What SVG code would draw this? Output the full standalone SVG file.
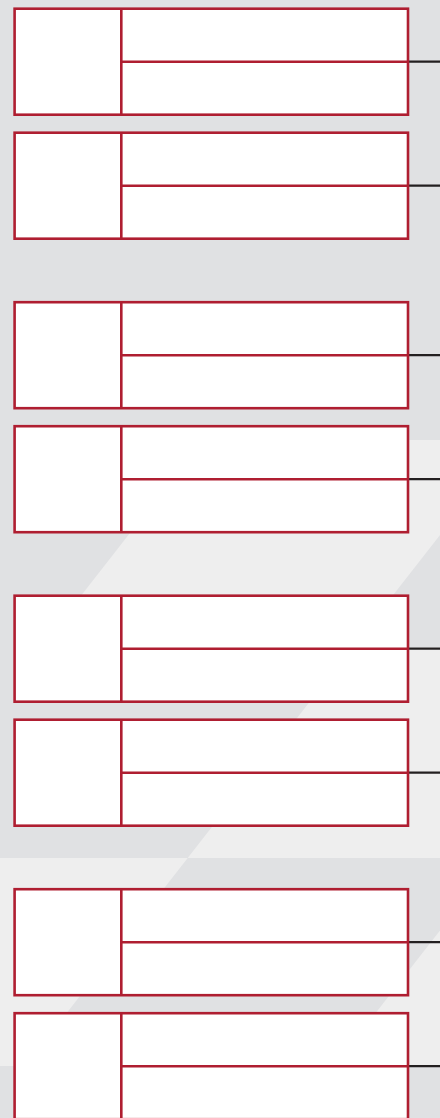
<svg xmlns="http://www.w3.org/2000/svg" width="440" height="1118" viewBox="0 0 440 1118">
<style>
.bg-dark{fill:#e0e1e3}
.bg-light{fill:#eeeeee}
.box{fill:#ffffff;stroke:#af1e31;stroke-width:2.6}
.div{fill:none;stroke:#af1e31;stroke-width:2.6}
.conn{fill:none;stroke:#231f20;stroke-width:2.2}
</style>
<g id="background">
<rect class="bg-dark" x="0" y="0" width="440" height="1118"/>
<polygon class="bg-light" points="202.6,440 514.2,440 352.5,647 41,647"/>
<polygon class="bg-light" points="352.5,647 460,647 460,858 187.7,858"/>
<polygon class="bg-light" points="-20,858 187.7,858 25.3,1066 -20,1066"/>
<polygon class="bg-light" points="496.7,858 560,858 560,1066 334.3,1066"/>
</g>
<g id="connectors">
<line class="conn" x1="408" y1="61.7" x2="442" y2="61.7"/>
<line class="conn" x1="408" y1="185.7" x2="442" y2="185.7"/>
<line class="conn" x1="408" y1="355.2" x2="442" y2="355.2"/>
<line class="conn" x1="408" y1="479.2" x2="442" y2="479.2"/>
<line class="conn" x1="408" y1="648.7" x2="442" y2="648.7"/>
<line class="conn" x1="408" y1="772.7" x2="442" y2="772.7"/>
<line class="conn" x1="408" y1="942.2" x2="442" y2="942.2"/>
<line class="conn" x1="408" y1="1066.2" x2="442" y2="1066.2"/>
</g>
<g id="node1"><rect class="box" x="14.6" y="8.7" width="393.4" height="106"/><path class="div" d="M121.3,8.7V114.7M121.3,61.7H408"/></g>
<g id="node2"><rect class="box" x="14.6" y="132.7" width="393.4" height="106"/><path class="div" d="M121.3,132.7V238.7M121.3,185.7H408"/></g>
<g id="node3"><rect class="box" x="14.6" y="302.2" width="393.4" height="106"/><path class="div" d="M121.3,302.2V408.2M121.3,355.2H408"/></g>
<g id="node4"><rect class="box" x="14.6" y="426.2" width="393.4" height="106"/><path class="div" d="M121.3,426.2V532.2M121.3,479.2H408"/></g>
<g id="node5"><rect class="box" x="14.6" y="595.7" width="393.4" height="106"/><path class="div" d="M121.3,595.7V701.7M121.3,648.7H408"/></g>
<g id="node6"><rect class="box" x="14.6" y="719.7" width="393.4" height="106"/><path class="div" d="M121.3,719.7V825.7M121.3,772.7H408"/></g>
<g id="node7"><rect class="box" x="14.6" y="889.2" width="393.4" height="106"/><path class="div" d="M121.3,889.2V995.2M121.3,942.2H408"/></g>
<g id="node8"><rect class="box" x="14.6" y="1013.2" width="393.4" height="106"/><path class="div" d="M121.3,1013.2V1119.2M121.3,1066.2H408"/></g>
</svg>
